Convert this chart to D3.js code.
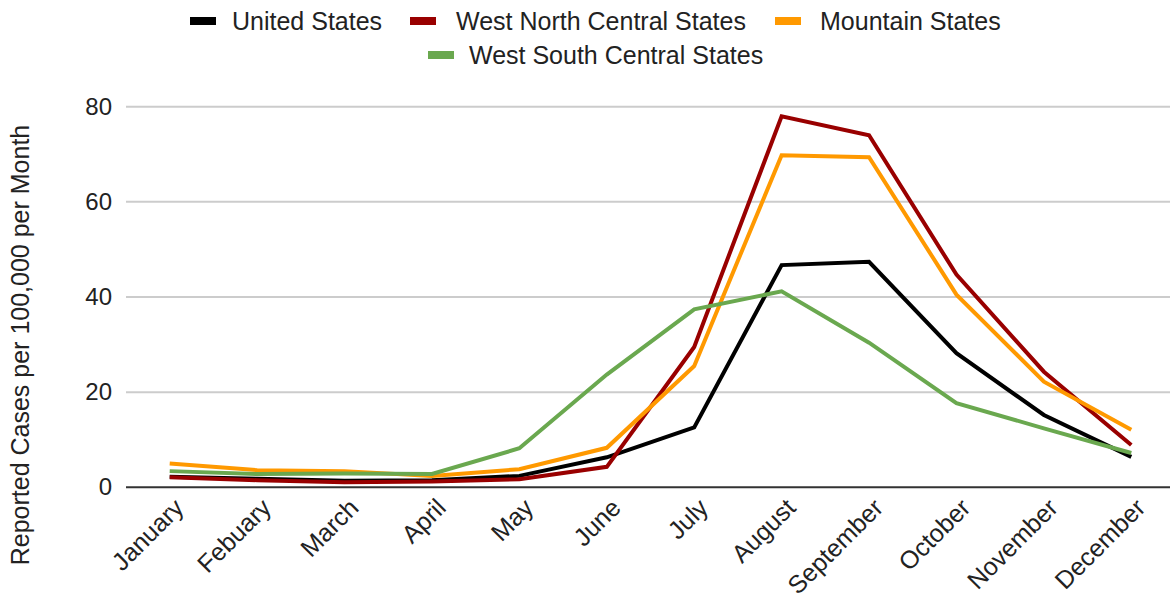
<!DOCTYPE html>
<html>
<head>
<meta charset="utf-8">
<script src="https://cdn.jsdelivr.net/npm/d3@7"></script>
<style>
  body { margin: 0; background: #fff; }
  svg { display: block; font-family: "Liberation Sans", Arial, sans-serif; }
</style>
</head>
<body>
<svg id="chart" width="1170" height="598"></svg>
<script>
const months = ["January","Febuary","March","April","May","June","July","August","September","October","November","December"];
const seriesNames = ["United States","West North Central States","Mountain States","West South Central States"];
const unitedStates = [2.2, 1.8, 1.4, 1.5, 2.4, 6.3, 12.6, 46.7, 47.4, 28.2, 15.2, 6.4];
const westNorthCentral = [2.1, 1.5, 1.05, 1.2, 1.7, 4.3, 29.5, 78.0, 74.0, 44.7, 24.3, 8.9];
const mountain = [5.0, 3.6, 3.4, 2.4, 3.8, 8.3, 25.5, 69.8, 69.4, 40.5, 22.2, 12.1];
const westSouthCentral = [3.4, 2.8, 2.9, 2.8, 8.2, 23.7, 37.4, 41.2, 30.4, 17.7, 12.4, 7.2];
const yTicks = [0, 20, 40, 60, 80];
const yLabel = "Reported Cases per 100,000 per Month";
const colors = ["#000000", "#990000", "#ff9900", "#6aa84f"];

(function () {
const data = [unitedStates, westNorthCentral, mountain, westSouthCentral];
const svg = d3.select("#chart");
const pLeft = 126, pRight = 1175, pTop = 106.7, pBottom = 487.3;

const x = d3.scalePoint().domain(months).range([pLeft, pRight]).padding(0.5);
const y = d3.scaleLinear().domain([0, 80]).range([pBottom, pTop]);

// gridlines
svg.append("g").selectAll("line").data(yTicks.filter(d => d !== 0)).join("line")
  .attr("x1", pLeft).attr("x2", 1170)
  .attr("y1", d => y(d)).attr("y2", d => y(d))
  .attr("stroke", "#cccccc").attr("stroke-width", 2);

// y axis tick labels
const yAxis = d3.axisLeft(y).tickValues(yTicks).tickSize(0).tickPadding(14);
const yg = svg.append("g").attr("transform", `translate(${pLeft},0)`).call(yAxis);
yg.select(".domain").remove();
yg.selectAll("text").attr("font-size", 24).attr("fill", "#222").attr("font-family", "Liberation Sans, Arial, sans-serif");

// x axis labels
const xAxis = d3.axisBottom(x).tickSize(0).tickPadding(0);
const xg = svg.append("g").attr("transform", `translate(0,${pBottom})`).call(xAxis);
xg.select(".domain").remove();
xg.selectAll("text")
  .attr("font-size", 25).attr("fill", "#222").attr("font-family", "Liberation Sans, Arial, sans-serif")
  .attr("text-anchor", "end").attr("dy", null).attr("y", 0)
  .attr("transform", "translate(15,22) rotate(-45)");

// lines
const line = d3.line().x((d, i) => x(months[i])).y(d => y(d));
svg.append("g").selectAll("path").data(data).join("path")
  .attr("d", d => line(d))
  .attr("fill", "none")
  .attr("stroke", (d, i) => colors[i])
  .attr("stroke-width", 4)
  .attr("stroke-linejoin", "miter");

// baseline
svg.append("line").attr("x1", pLeft).attr("x2", 1170)
  .attr("y1", y(0)).attr("y2", y(0))
  .attr("stroke", "#333333").attr("stroke-width", 2);

// y label
svg.append("text")
  .attr("transform", "translate(29,345) rotate(-90)")
  .attr("text-anchor", "middle")
  .attr("font-size", 25).attr("fill", "#222")
  .text(yLabel);

// legend
const legendPos = [
  {sx: 190, tx: 232, y: 21},
  {sx: 410, tx: 456, y: 21},
  {sx: 775, tx: 820, y: 21},
  {sx: 428, tx: 469, y: 55}
];
const lg = svg.append("g");
seriesNames.forEach((name, i) => {
  const p = legendPos[i];
  lg.append("rect").attr("x", p.sx).attr("y", p.y - 4).attr("width", 26).attr("height", 8).attr("fill", colors[i]);
  lg.append("text").attr("x", p.tx).attr("y", p.y).attr("dy", "0.35em")
    .attr("font-size", 25).attr("fill", "#222").text(name);
});
})();
</script>
</body>
</html>
